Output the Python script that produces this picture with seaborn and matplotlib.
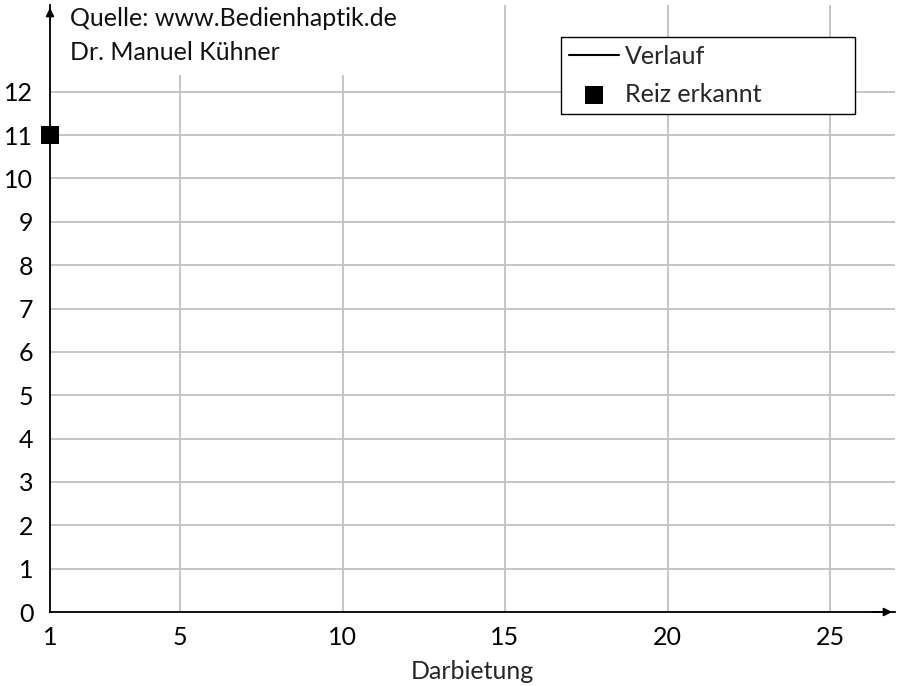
import matplotlib
matplotlib.use("Agg")
import matplotlib.pyplot as plt
import seaborn as sns
import pandas as pd

# data
darbietung = [1]
reiz = [11]
x_ticks = [1, 5, 10, 15, 20, 25]
y_ticks = list(range(0, 13))
x_label = "Darbietung"
source_lines = ["Quelle: www.Bedienhaptik.de", "Dr. Manuel Kühner"]
legend_labels = ["Verlauf", "Reiz erkannt"]

df = pd.DataFrame({"Darbietung": darbietung, "Reiz": reiz})

sns.set_style("white")
plt.rcParams["font.family"] = ["Lato", "DejaVu Sans"]
FS = 18

fig = plt.figure(figsize=(8.97, 6.86), dpi=100)
W, H = 897, 686
x0, x1 = 50, 895
y0, y1 = 612, 5
ax = fig.add_axes([x0 / W, 1 - y0 / H, (x1 - x0) / W, (y0 - y1) / H])

def ax_fx(px):
    return (px - x0) / (x1 - x0)

def ax_fy(py):
    return (y0 - py) / (y0 - y1)

sns.lineplot(data=df, x="Darbietung", y="Reiz", ax=ax, color="black",
             linewidth=1.5, label=legend_labels[0])
sns.scatterplot(data=df, x="Darbietung", y="Reiz", ax=ax, color="black",
                marker="s", s=150, linewidth=0, label=legend_labels[1],
                clip_on=False, zorder=5)

ax.set_xlim(1, 27)
ax.set_ylim(0, 14)
ax.set_xticks(x_ticks)
ax.set_yticks(y_ticks)
ax.grid(True, color="#c0c0c0", linewidth=1.3)
ax.set_axisbelow(True)

for s in ["top", "right"]:
    ax.spines[s].set_visible(False)
for s in ["left", "bottom"]:
    ax.spines[s].set_color("black")
    ax.spines[s].set_linewidth(1.3)
    ax.spines[s].set_zorder(4)

ax.tick_params(axis="both", direction="inout", length=8, width=1.3,
               colors="black", labelsize=FS)
ax.tick_params(axis="x", pad=6)
ax.tick_params(axis="y", pad=8)
ax.set_xlabel(x_label, fontsize=FS, labelpad=8)
ax.set_ylabel("")

# axis arrows
ax.annotate("", xy=(1.0, 0), xycoords="axes fraction", xytext=(0.97, 0),
            arrowprops=dict(arrowstyle="-|>", color="black", lw=1.3,
                            mutation_scale=12), annotation_clip=False)
ax.annotate("", xy=(0, 1.0), xycoords="axes fraction", xytext=(0, 0.97),
            arrowprops=dict(arrowstyle="-|>", color="black", lw=1.3,
                            mutation_scale=12), annotation_clip=False)

# source text
ax.text(ax_fx(70), ax_fy(7), "\n".join(source_lines),
        transform=ax.transAxes, ha="left", va="top", fontsize=FS,
        linespacing=1.6, color="#111111",
        bbox=dict(facecolor="white", edgecolor="none", pad=8), zorder=6)

bx0, bx1, by0, by1 = 561, 855, 37, 114
leg = ax.legend(loc="upper left",
                bbox_to_anchor=(ax_fx(bx0), ax_fy(by1), ax_fx(bx1) - ax_fx(bx0),
                                ax_fy(by0) - ax_fy(by1)),
                mode="expand",
                fontsize=FS, frameon=True, fancybox=False, framealpha=1,
                edgecolor="black", handlelength=2.0, handletextpad=0.25,
                borderpad=0.3, labelspacing=0.62, borderaxespad=0)
leg.get_frame().set_linewidth(1.0)
leg.set_zorder(7)

fig.savefig("out.png", dpi=100)
